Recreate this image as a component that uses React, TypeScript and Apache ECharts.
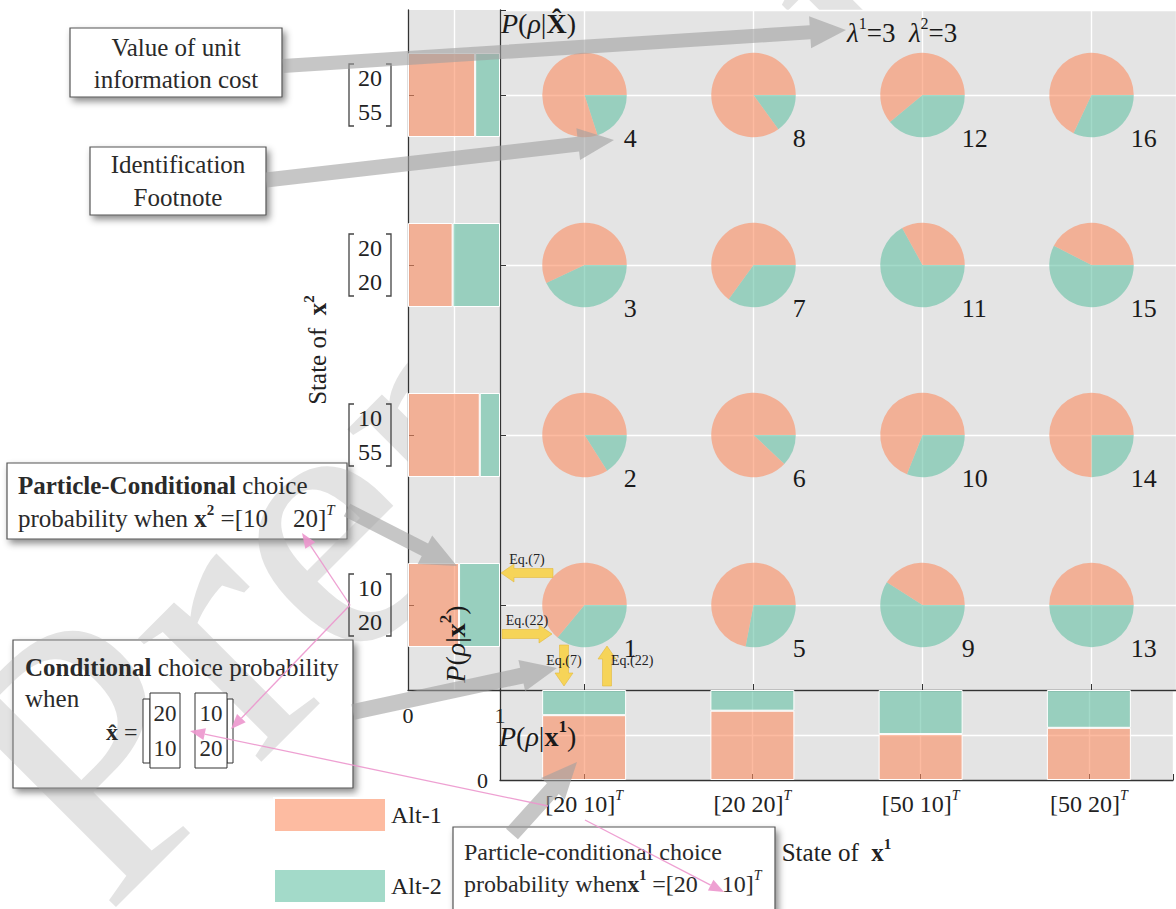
import React, { useEffect, useRef } from 'react';
import * as echarts from 'echarts';

const FONT = "'Liberation Serif', 'Times New Roman', serif";

// ---------- data ----------
const stateX1Labels = ['[20 10]', '[20 20]', '[50 10]', '[50 20]'];
const stateX2Upper = ['10', '10', '20', '20'];
const stateX2Lower = ['20', '55', '20', '55'];
const colIndex = [1, 2, 3, 4];
const rowIndex = [1, 2, 3, 4];
// pie numbering, by column (rows bottom -> top)
const pieIds = [
  [1, 2, 3, 4],
  [5, 6, 7, 8],
  [9, 10, 11, 12],
  [13, 14, 15, 16],
];
// joint choice probability P(rho | X^) per column, rows bottom -> top
const jointAlt1 = [
  [0.64, 0.84, 0.57, 0.8],
  [0.72, 0.88, 0.65, 0.85],
  [0.41, 0.69, 0.33, 0.61],
  [0.5, 0.75, 0.425, 0.68],
];
const jointAlt2 = [
  [0.36, 0.16, 0.43, 0.2],
  [0.28, 0.12, 0.35, 0.15],
  [0.59, 0.31, 0.67, 0.39],
  [0.5, 0.25, 0.575, 0.32],
];
// particle-conditional P(rho | x^2), rows bottom -> top
const condX2Alt1 = [0.555, 0.78, 0.485, 0.73];
const condX2Alt2 = [0.445, 0.22, 0.515, 0.27];
// particle-conditional P(rho | x^1), columns left -> right
const condX1Alt1 = [0.72, 0.77, 0.51, 0.58];
const condX1Alt2 = [0.28, 0.23, 0.49, 0.42];

const SALMON = 'rgba(252,141,98,0.6)';
const TEAL = 'rgba(102,194,165,0.6)';
const PANEL = '#e4e4e4';
const AXIS = '#333';
const ARROW_GRAY = 'rgba(160,160,160,0.6)';
const YELLOW = '#f6d458';
const PINK = 'rgba(236,150,205,0.9)';

function rich(size: number, color = '#222') {
  const sup = Math.round(size * 0.6);
  return {
    n: { fontFamily: FONT, fontSize: size, color, lineHeight: size + 8 },
    i: { fontFamily: FONT, fontSize: size, color, fontStyle: 'italic', lineHeight: size + 8 },
    b: { fontFamily: FONT, fontSize: size, color, fontWeight: 'bold', lineHeight: size + 8 },
    s: { fontFamily: FONT, fontSize: sup, color, verticalAlign: 'top', lineHeight: sup },
    sb: { fontFamily: FONT, fontSize: sup, color, fontWeight: 'bold', verticalAlign: 'top', lineHeight: sup },
    si: { fontFamily: FONT, fontSize: sup, color, fontStyle: 'italic', verticalAlign: 'top', lineHeight: sup },
  };
}

function arrowPoly(x1: number, y1: number, x2: number, y2: number, w: number, hl: number, hw: number) {
  const dx = x2 - x1;
  const dy = y2 - y1;
  const L = Math.hypot(dx, dy);
  const ux = dx / L;
  const uy = dy / L;
  const nx = -uy;
  const ny = ux;
  const bx = x2 - ux * hl;
  const by = y2 - uy * hl;
  return [
    [x1 + (nx * w) / 2, y1 + (ny * w) / 2],
    [bx + (nx * w) / 2, by + (ny * w) / 2],
    [bx + nx * hw, by + ny * hw],
    [x2, y2],
    [bx - nx * hw, by - ny * hw],
    [bx - (nx * w) / 2, by - (ny * w) / 2],
    [x1 - (nx * w) / 2, y1 - (ny * w) / 2],
  ];
}

function grayArrow(x1: number, y1: number, x2: number, y2: number, w = 15) {
  return {
    type: 'polygon',
    z: 50,
    silent: true,
    shape: { points: arrowPoly(x1, y1, x2, y2, w, 36, 16) },
    style: { fill: ARROW_GRAY },
  };
}

function yellowArrow(x1: number, y1: number, x2: number, y2: number) {
  return {
    type: 'polygon',
    z: 50,
    silent: true,
    shape: { points: arrowPoly(x1, y1, x2, y2, 9, 13, 9) },
    style: { fill: YELLOW, stroke: '#e2b93c', lineWidth: 0.6 },
  };
}

function pinkArrow(x1: number, y1: number, x2: number, y2: number) {
  const dx = x2 - x1;
  const dy = y2 - y1;
  const L = Math.hypot(dx, dy);
  const ux = dx / L;
  const uy = dy / L;
  const nx = -uy;
  const ny = ux;
  const hl = 15;
  const hw = 6;
  const bx = x2 - ux * hl;
  const by = y2 - uy * hl;
  return [
    { type: 'line', z: 60, silent: true, shape: { x1, y1, x2: bx, y2: by }, style: { stroke: PINK, lineWidth: 1.3 } },
    {
      type: 'polygon',
      z: 60,
      silent: true,
      shape: { points: [[x2, y2], [bx + nx * hw, by + ny * hw], [bx - nx * hw, by - ny * hw]] },
      style: { fill: PINK },
    },
  ];
}

function box(x: number, y: number, w: number, h: number) {
  return {
    type: 'rect',
    z: -3,
    silent: true,
    shape: { x, y, width: w, height: h },
    style: {
      fill: '#fff',
      stroke: '#555',
      lineWidth: 1.2,
      shadowBlur: 7,
      shadowOffsetX: 3,
      shadowOffsetY: 4,
      shadowColor: 'rgba(0,0,0,0.45)',
    },
  };
}

function txt(x: number, y: number, text: string, size: number, opts: any = {}) {
  return {
    type: 'text',
    z: opts.z ?? -1,
    silent: true,
    x,
    y,
    rotation: opts.rotation ?? 0,
    style: {
      text,
      fontFamily: FONT,
      fontSize: size,
      fill: opts.color ?? '#2a2a2a',
      align: opts.align ?? 'left',
      verticalAlign: opts.verticalAlign ?? 'middle',
      lineHeight: opts.lineHeight,
      rich: rich(size, opts.color ?? '#2a2a2a'),
    },
  };
}

export default function App() {
  const ref = useRef<HTMLDivElement>(null);

  useEffect(() => {
    if (!ref.current) return;
    const chart = echarts.init(ref.current, null, { renderer: 'svg' });

    const pieData: number[][] = [];
    colIndex.forEach((c, i) => {
      rowIndex.forEach((r, j) => {
        pieData.push([c, r, jointAlt1[i][j], jointAlt2[i][j], pieIds[i][j]]);
      });
    });
    const bracketData = stateX2Upper.map((_, i) => [0, i]);
    const yCats = stateX2Upper.map((u, i) => `${u}\n${stateX2Lower[i]}`);

    const axisLineStyle = { lineStyle: { color: AXIS, width: 1.3 } };
    const whiteSplit = { show: true, lineStyle: { color: '#fff', width: 1.4 } };

    const graphic: any[] = [
      // watermark
      {
        type: 'text',
        z: -2,
        silent: true,
        x: 150,
        y: 960,
        rotation: Math.PI / 4,
        style: {
          text: 'Preprint',
          fontFamily: FONT,
          fontSize: 380,
          fill: 'rgba(170,170,170,0.33)',
          align: 'left',
          verticalAlign: 'bottom',
        },
      },
      // boxes
      box(70, 28, 212, 69),
      txt(176, 63, 'Value of unit\ninformation cost', 25, { align: 'center', lineHeight: 32 }),
      box(90, 147, 176, 68),
      txt(178, 181, 'Identification\nFootnote', 25, { align: 'center', lineHeight: 33 }),
      box(7, 463, 340, 76),
      txt(18, 502, '{b|Particle-Conditional}{n| choice}\n{n|probability when }{b|x}{sb|2}{n| =[10    20]}{si|T}', 25),
      box(13, 640, 340, 148),
      txt(25, 667, '{b|Conditional}{n| choice probability}', 25),
      txt(25, 698, 'when', 25),
      txt(106, 732, '{b|x\u0302}{n| =}', 24),
      {
        type: 'rect', z: -1, silent: true,
        shape: { x: 143, y: 699, width: 7, height: 64 },
        style: { fill: '#fff', stroke: '#333', lineWidth: 1 },
      },
      {
        type: 'rect', z: -1, silent: true,
        shape: { x: 227, y: 699, width: 6, height: 64 },
        style: { fill: '#fff', stroke: '#333', lineWidth: 1 },
      },
      {
        type: 'rect', z: -1, silent: true,
        shape: { x: 150, y: 693, width: 30, height: 75 },
        style: { fill: '#fff', stroke: '#333', lineWidth: 1 },
      },
      {
        type: 'rect', z: -1, silent: true,
        shape: { x: 195, y: 693, width: 32, height: 75 },
        style: { fill: '#fff', stroke: '#333', lineWidth: 1 },
      },
      txt(165, 713, '20', 23, { align: 'center', z: 0 }),
      txt(165, 748, '10', 23, { align: 'center', z: 0 }),
      txt(211, 713, '10', 23, { align: 'center', z: 0 }),
      txt(211, 748, '20', 23, { align: 'center', z: 0 }),
      box(453, 827, 322, 100),
      txt(464, 868, '{n|Particle-conditional choice}\n{n|probability when}{b|x}{sb|1}{n| =[20    10]}{si|T}', 24),
      // panel annotations
      txt(501, 23, '{i|P}{n|(}{i|ρ}{n||}{b|X\u0302}{n|)}', 28, { z: 10, color: '#1a1a1a' }),
      txt(847, 33, '{i|λ}{s|1}{n|=3  }{i|λ}{s|2}{n|=3}', 27, { z: 10, color: '#1a1a1a' }),
      txt(455, 644, '{i|P}{n|(}{i|ρ}{n||}{b|x}{sb|2}{n|)}', 28, { z: 10, align: 'center', rotation: Math.PI / 2, color: '#1a1a1a' }),
      txt(499, 736, '{i|P}{n|(}{i|ρ}{n||}{b|x}{sb|1}{n|)}', 28, { z: 10, color: '#1a1a1a' }),
      // gray arrows
      grayArrow(283, 66, 846, 30, 14),
      grayArrow(266, 180, 614, 140, 15),
      grayArrow(347, 510, 457, 566, 14),
      grayArrow(353, 712, 557, 668, 16),
      grayArrow(512, 834, 577, 762, 16),
      // yellow equation arrows
      yellowArrow(553, 573, 501, 573),
      txt(527, 559, 'Eq.(7)', 14, { z: 55, align: 'center', color: '#222' }),
      yellowArrow(502, 634, 552, 634),
      txt(527, 620, 'Eq.(22)', 14, { z: 55, align: 'center', color: '#222' }),
      yellowArrow(564, 645, 564, 686),
      txt(564, 660, 'Eq.(7)', 14, { z: 55, align: 'center', color: '#222' }),
      yellowArrow(607, 686, 607, 646),
      txt(611, 660, 'Eq.(22)', 14, { z: 55, align: 'left', color: '#222' }),
      // pink links
      ...pinkArrow(350, 605, 302, 533),
      ...pinkArrow(350, 605, 231, 729),
      ...pinkArrow(548, 806, 190, 731),
      ...pinkArrow(585, 820, 724, 892),
    ];

    const option: any = {
      animation: false,
      textStyle: { fontFamily: FONT },
      grid: [
        { left: 500, top: 10, width: 680, height: 680, show: true, backgroundColor: PANEL, borderWidth: 0 },
        { left: 408, top: 10, width: 92, height: 680, show: true, backgroundColor: PANEL, borderWidth: 0 },
        { left: 500, top: 690, width: 680, height: 90, show: true, backgroundColor: PANEL, borderWidth: 0 },
      ],
      xAxis: [
        {
          type: 'value', gridIndex: 0, min: 0.5, max: 4.5, splitNumber: 4,
          axisLine: { show: true, ...axisLineStyle },
          axisTick: { show: true, inside: true, length: 6, lineStyle: { color: AXIS } },
          axisLabel: { show: false },
          splitLine: whiteSplit,
        },
        {
          type: 'value', gridIndex: 1, min: 0, max: 1, splitNumber: 2,
          axisLine: { show: true, ...axisLineStyle },
          axisTick: { show: false },
          axisLabel: {
            margin: 14, fontFamily: FONT, fontSize: 22, color: '#222',
            formatter: (v: number) => (v === 0 ? '0' : v === 1 ? '1' : ''),
          },
          splitLine: whiteSplit,
        },
        {
          type: 'value', gridIndex: 2, min: 0.5, max: 4.5, splitNumber: 4,
          axisLine: { show: true, ...axisLineStyle },
          axisTick: { show: true, inside: true, length: 6, lineStyle: { color: AXIS } },
          axisLabel: {
            margin: 8,
            formatter: (v: number) => {
              const k = colIndex.indexOf(v);
              return k >= 0 ? `{n|${stateX1Labels[k]}}{si|T}` : '';
            },
            rich: rich(24, '#222'),
          },
          splitLine: whiteSplit,
          name: '{n|State of  }{b|x}{sb|1}',
          nameLocation: 'middle',
          nameGap: 56,
          nameTextStyle: { rich: rich(25, '#222') },
        },
        {
          type: 'category', gridIndex: 2, data: stateX1Labels, show: false,
        },
      ],
      yAxis: [
        {
          type: 'value', gridIndex: 0, min: 0.5, max: 4.5, splitNumber: 4,
          axisLine: { show: true, ...axisLineStyle },
          axisTick: { show: true, inside: true, length: 6, lineStyle: { color: AXIS } },
          axisLabel: { show: false },
          splitLine: whiteSplit,
        },
        {
          type: 'category', gridIndex: 1, data: yCats,
          axisLine: { show: true, ...axisLineStyle },
          axisTick: { show: true, inside: true, alignWithLabel: true, length: 6, lineStyle: { color: AXIS } },
          axisLabel: { margin: 38, align: 'center', fontFamily: FONT, fontSize: 24, lineHeight: 34, color: '#222' },
          splitLine: { show: false },
          name: '{n|State of  }{b|x}{sb|2}',
          nameLocation: 'middle',
          nameGap: 74,
          nameTextStyle: { rich: rich(25, '#222') },
        },
        {
          type: 'value', gridIndex: 2, min: 0, max: 1, splitNumber: 2,
          axisLine: { show: true, ...axisLineStyle },
          axisTick: { show: false },
          axisLabel: {
            margin: 12, fontFamily: FONT, fontSize: 22, color: '#222',
            formatter: (v: number) => (v === 0 ? '0' : ''),
          },
          splitLine: whiteSplit,
        },
      ],
      legend: {
        data: ['Alt-1', 'Alt-2'],
        orient: 'vertical',
        left: 273,
        top: 797,
        padding: 0,
        itemWidth: 112,
        itemHeight: 34,
        itemGap: 35,
        icon: 'rect',
        selectedMode: false,
        textStyle: { fontFamily: FONT, fontSize: 24, color: '#222' },
      },
      graphic,
      series: [
        {
          type: 'custom',
          name: 'joint',
          xAxisIndex: 0,
          yAxisIndex: 0,
          z: 3,
          silent: true,
          data: pieData,
          renderItem: (params: any, api: any) => {
            const c = api.value(0);
            const r = api.value(1);
            const a1 = api.value(2);
            const a2 = api.value(3);
            const id = api.value(4);
            const pt = api.coord([c, r]);
            const R = api.size([1, 1])[0] * 0.25;
            const split = (a2 / (a1 + a2)) * Math.PI * 2;
            return {
              type: 'group',
              children: [
                { type: 'sector', shape: { cx: pt[0], cy: pt[1], r: R, r0: 0, startAngle: 0, endAngle: split, clockwise: true }, style: { fill: TEAL } },
                { type: 'sector', shape: { cx: pt[0], cy: pt[1], r: R, r0: 0, startAngle: split, endAngle: Math.PI * 2, clockwise: true }, style: { fill: SALMON } },
                {
                  type: 'text',
                  x: pt[0] + R - 3,
                  y: pt[1] + R + 1,
                  style: { text: String(id), fontFamily: FONT, fontSize: 26, fill: '#1a1a1a', align: 'left', verticalAlign: 'middle' },
                },
              ],
            };
          },
        },
        {
          type: 'custom',
          name: 'brackets',
          xAxisIndex: 1,
          yAxisIndex: 1,
          silent: true,
          data: bracketData,
          renderItem: (params: any, api: any) => {
            const pt = api.coord([api.value(0), api.value(1)]);
            const x = pt[0];
            const y = pt[1];
            const h = 31;
            const lx = x - 59;
            const rx = x - 17;
            const s = 5;
            const st = { stroke: '#444', lineWidth: 1.3, fill: null };
            return {
              type: 'group',
              children: [
                { type: 'polyline', shape: { points: [[lx + s, y - h], [lx, y - h], [lx, y + h], [lx + s, y + h]] }, style: st },
                { type: 'polyline', shape: { points: [[rx - s, y - h], [rx, y - h], [rx, y + h], [rx - s, y + h]] }, style: st },
              ],
            };
          },
        },
        {
          type: 'bar', name: 'Alt-1', xAxisIndex: 1, yAxisIndex: 1, stack: 'x2', barWidth: 84,
          data: condX2Alt1,
          itemStyle: { color: SALMON, borderColor: '#fff', borderWidth: 1 },
        },
        {
          type: 'bar', name: 'Alt-2', xAxisIndex: 1, yAxisIndex: 1, stack: 'x2', barWidth: 84,
          data: condX2Alt2,
          itemStyle: { color: TEAL, borderColor: '#fff', borderWidth: 1 },
        },
        {
          type: 'bar', name: 'Alt-1', xAxisIndex: 3, yAxisIndex: 2, stack: 'x1', barWidth: 84,
          data: condX1Alt1,
          itemStyle: { color: SALMON, borderColor: '#fff', borderWidth: 1 },
        },
        {
          type: 'bar', name: 'Alt-2', xAxisIndex: 3, yAxisIndex: 2, stack: 'x1', barWidth: 84,
          data: condX1Alt2,
          itemStyle: { color: TEAL, borderColor: '#fff', borderWidth: 1 },
        },
      ],
    };

    chart.setOption(option);
    return () => chart.dispose();
  }, []);

  return (
    <div
      ref={ref}
      style={{ position: 'absolute', left: 0, top: 0, width: 1176, height: 909, background: '#fff' }}
    />
  );
}
